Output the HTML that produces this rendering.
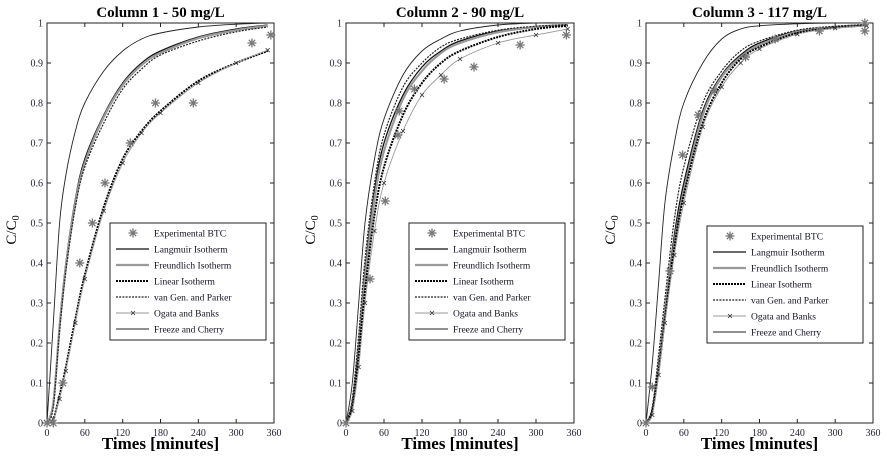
<!DOCTYPE html>
<html><head><meta charset="utf-8">
<style>
html,body{margin:0;padding:0;background:#fff;}
svg{display:block;font-family:"Liberation Serif",serif;}
</style></head>
<body>
<svg id="chart" width="886" height="458" viewBox="0 0 886 458" xmlns="http://www.w3.org/2000/svg"></svg>
<script>
const times = [0,10,20,30,45,60,90,120,150,180,240,300,350];
const xTicks = [0,60,120,180,240,300,360];
const yTicks = [0,0.1,0.2,0.3,0.4,0.5,0.6,0.7,0.8,0.9,1];
const yTickLabels = ["0","0.1","0.2","0.3","0.4","0.5","0.6","0.7","0.8","0.9","1"];
const titles = ["Column 1 - 50 mg/L","Column 2 - 90 mg/L","Column 3 - 117 mg/L"];
const legendLabels = ["Experimental BTC","Langmuir Isotherm","Freundlich Isotherm","Linear Isotherm","van Gen. and Parker","Ogata and Banks","Freeze and Cherry"];

// Column 1
const c1Freeze = [0,0.25,0.5,0.62,0.73,0.8,0.88,0.93,0.96,0.975,0.99,0.997,1];
const c1Langmuir = [0,0.05,0.25,0.4,0.56,0.66,0.77,0.85,0.9,0.93,0.965,0.985,0.995];
const c1Freundlich = [0,0.05,0.24,0.39,0.55,0.65,0.765,0.845,0.895,0.925,0.962,0.982,0.993];
const c1VanGen = [0,0.04,0.23,0.38,0.54,0.64,0.75,0.835,0.885,0.92,0.955,0.978,0.99];
const c1Linear = [0,0.01,0.07,0.14,0.26,0.37,0.54,0.66,0.73,0.78,0.855,0.9,0.93];
const c1Ogata = [0,0.01,0.06,0.13,0.25,0.36,0.53,0.65,0.725,0.775,0.85,0.9,0.932];
const c1ExpT = [0,10,25,52,72,92,132,172,232,325,355];
const c1ExpC = [0,0,0.1,0.4,0.5,0.6,0.7,0.8,0.8,0.95,0.97];
// Column 2
const c2Freeze = [0,0.1,0.3,0.5,0.66,0.76,0.87,0.93,0.96,0.98,0.995,1,1];
const c2Langmuir = [0,0.05,0.2,0.38,0.58,0.7,0.82,0.89,0.93,0.955,0.98,0.99,0.995];
const c2Freundlich = [0,0.05,0.19,0.36,0.56,0.68,0.81,0.88,0.925,0.95,0.977,0.99,0.995];
const c2VanGen = [0,0.06,0.22,0.41,0.6,0.72,0.84,0.9,0.94,0.96,0.982,0.992,0.996];
const c2Linear = [0,0.04,0.17,0.33,0.52,0.64,0.77,0.85,0.9,0.93,0.965,0.985,0.993];
const c2Ogata = [0,0.03,0.14,0.3,0.48,0.6,0.73,0.82,0.87,0.91,0.95,0.97,0.985];
const c2ExpT = [0,38,62,82,84,108,155,202,275,348];
const c2ExpC = [0,0.36,0.555,0.72,0.78,0.835,0.86,0.89,0.945,0.97];
// Column 3
const c3Freeze = [0,0.15,0.35,0.55,0.7,0.8,0.9,0.96,0.985,0.993,0.998,1,1];
const c3Langmuir = [0,0.03,0.15,0.28,0.47,0.6,0.78,0.87,0.92,0.95,0.98,0.99,0.995];
const c3Freundlich = [0,0.03,0.14,0.27,0.45,0.58,0.77,0.865,0.915,0.945,0.978,0.99,0.995];
const c3VanGen = [0,0.04,0.17,0.31,0.51,0.64,0.8,0.88,0.93,0.955,0.982,0.992,0.996];
const c3Linear = [0,0.03,0.13,0.26,0.44,0.57,0.75,0.85,0.91,0.94,0.975,0.988,0.994];
const c3Ogata = [0,0.02,0.12,0.25,0.42,0.55,0.74,0.84,0.9,0.935,0.972,0.987,0.993];
const c3ExpT = [0,10,38,58,83,108,158,205,275,347,347];
const c3ExpC = [0,0.09,0.38,0.67,0.77,0.83,0.915,0.96,0.98,0.98,1.0];

const panels = [
 {x0:47,x1:274,legend:[110,223],series:[c1Langmuir,c1Freundlich,c1Linear,c1VanGen,c1Ogata,c1Freeze],et:c1ExpT,ec:c1ExpC},
 {x0:346,x1:574,legend:[409,223],series:[c2Langmuir,c2Freundlich,c2Linear,c2VanGen,c2Ogata,c2Freeze],et:c2ExpT,ec:c2ExpC},
 {x0:646,x1:873,legend:[707,226],series:[c3Langmuir,c3Freundlich,c3Linear,c3VanGen,c3Ogata,c3Freeze],et:c3ExpT,ec:c3ExpC}
];
const yTop=23, yBot=423;
const NS="http://www.w3.org/2000/svg";
const svg=document.getElementById('chart');
function mk(tag,attrs,parent){const e=document.createElementNS(NS,tag);for(const k in attrs)e.setAttribute(k,attrs[k]);(parent||svg).appendChild(e);return e;}
const styles=[
 {stroke:"#111",w:1.3,dash:null},
 {stroke:"#999",w:2.2,dash:null},
 {stroke:"#000",w:2,dash:"2,1"},
 {stroke:"#222",w:1.2,dash:"2,1.2"},
 {stroke:"#999",w:0.9,dash:null},
 {stroke:"#222",w:0.9,dash:null}
];
const seriesNames=["langmuir-curve","freundlich-curve","linear-curve","van-gen-parker-curve","ogata-banks-curve","freeze-cherry-curve"];
function star(g,x,y,r,col){
 for(let a=0;a<4;a++){const ang=a*Math.PI/4;mk('line',{x1:x-r*Math.cos(ang),y1:y-r*Math.sin(ang),x2:x+r*Math.cos(ang),y2:y+r*Math.sin(ang),stroke:col,'stroke-width':1.3},g);}
}
function smooth(pts){
 let d='M'+pts[0][0].toFixed(1)+','+pts[0][1].toFixed(1);
 for(let i=0;i<pts.length-1;i++){
  const p0=pts[Math.max(0,i-1)],p1=pts[i],p2=pts[i+1],p3=pts[Math.min(pts.length-1,i+2)];
  const c1x=p1[0]+(p2[0]-p0[0])/6,c1y=p1[1]+(p2[1]-p0[1])/6;
  const c2x=p2[0]-(p3[0]-p1[0])/6,c2y=p2[1]-(p3[1]-p1[1])/6;
  d+=` C${c1x.toFixed(1)},${c1y.toFixed(1)} ${c2x.toFixed(1)},${c2y.toFixed(1)} ${p2[0].toFixed(1)},${p2[1].toFixed(1)}`;
 }
 return d;
}
panels.forEach((p,pi)=>{
 const X=t=>p.x0+(t/360)*(p.x1-p.x0);
 const Y=v=>yBot-v*(yBot-yTop);
 const g=mk('g',{});
 
 
 const t=mk('text',{x:(p.x0+p.x1)/2,y:17,'text-anchor':'middle','font-size':15,'font-weight':'bold'},g);
 t.textContent=titles[pi];
 
 
 const fr=mk('rect',{x:p.x0,y:yTop,width:p.x1-p.x0,height:yBot-yTop,fill:'none',stroke:'#222','stroke-width':1},g);
 
 
 xTicks.forEach(v=>{const x=X(v);
  mk('line',{x1:x,y1:yBot,x2:x,y2:yBot-4,stroke:'#222'},g);mk('line',{x1:x,y1:yTop,x2:x,y2:yTop+4,stroke:'#222'},g);
  const l=mk('text',{x:x,y:yBot+13,'text-anchor':'middle','font-size':10,fill:'#223'},g);l.textContent=v;
  
  
 });
 yTicks.forEach((v,i)=>{const y=Y(v);
  mk('line',{x1:p.x0,y1:y,x2:p.x0+4,y2:y,stroke:'#222'},g);mk('line',{x1:p.x1,y1:y,x2:p.x1-4,y2:y,stroke:'#222'},g);
  const l=mk('text',{x:p.x0-4,y:y+3.5,'text-anchor':'end','font-size':10,fill:'#223'},g);l.textContent=yTickLabels[i];
  
  
 });
 const xl=mk('text',{x:(p.x0+p.x1)/2,y:449,'text-anchor':'middle','font-size':17,'font-weight':'bold'},g);xl.textContent="Times [minutes]";
 
 
 const yl=mk('text',{x:0,y:0,'text-anchor':'middle','font-size':15,transform:`translate(${p.x0-31},230) rotate(-90)`},g);
 yl.innerHTML='C/C<tspan font-size="10" dy="3">0</tspan>';
 
 
 p.series.forEach((s,si)=>{
  const st=styles[si];
  const pts=s.map((v,i)=>[X(times[i]),Y(v)]);
  const path=mk('path',{d:smooth(pts),fill:'none',stroke:st.stroke,'stroke-width':st.w,'stroke-linejoin':'round'},g);
  if(st.dash)path.setAttribute('stroke-dasharray',st.dash);
  
  
  if(si===4){s.forEach((v,i)=>{const x=X(times[i]),y=Y(v);
   mk('path',{d:`M${x-2},${y-2}L${x+2},${y+2}M${x-2},${y+2}L${x+2},${y-2}`,stroke:'#333','stroke-width':0.8},g);});}
 });
 const eg=mk('g',{},g);
 
 
 p.et.forEach((tt,i)=>star(eg,X(tt),Y(p.ec[i]),4.5,'#777'));
 const [lx,ly]=p.legend;
 const lg=mk('g',{},g);
 
 
 mk('rect',{x:lx,y:ly,width:156,height:117,fill:'#fff',stroke:'#222','stroke-width':1},lg);
 legendLabels.forEach((lab,i)=>{
  const yy=ly+10+i*16;
  if(i===0){star(lg,lx+23,yy,4.5,'#777');}
  else{const st=styles[i-1];const ln=mk('line',{x1:lx+6,y1:yy,x2:lx+39,y2:yy,stroke:st.stroke,'stroke-width':st.w},lg);if(st.dash)ln.setAttribute('stroke-dasharray',st.dash);
   if(i===5)mk('path',{d:`M${lx+21},${yy-2}L${lx+25},${yy+2}M${lx+21},${yy+2}L${lx+25},${yy-2}`,stroke:'#333','stroke-width':0.8},lg);}
  const tx=mk('text',{x:lx+44,y:yy+3.5,'font-size':9.5,fill:'#112'},lg);tx.textContent=lab;
  
  
 });
});
</script>
</body></html>
